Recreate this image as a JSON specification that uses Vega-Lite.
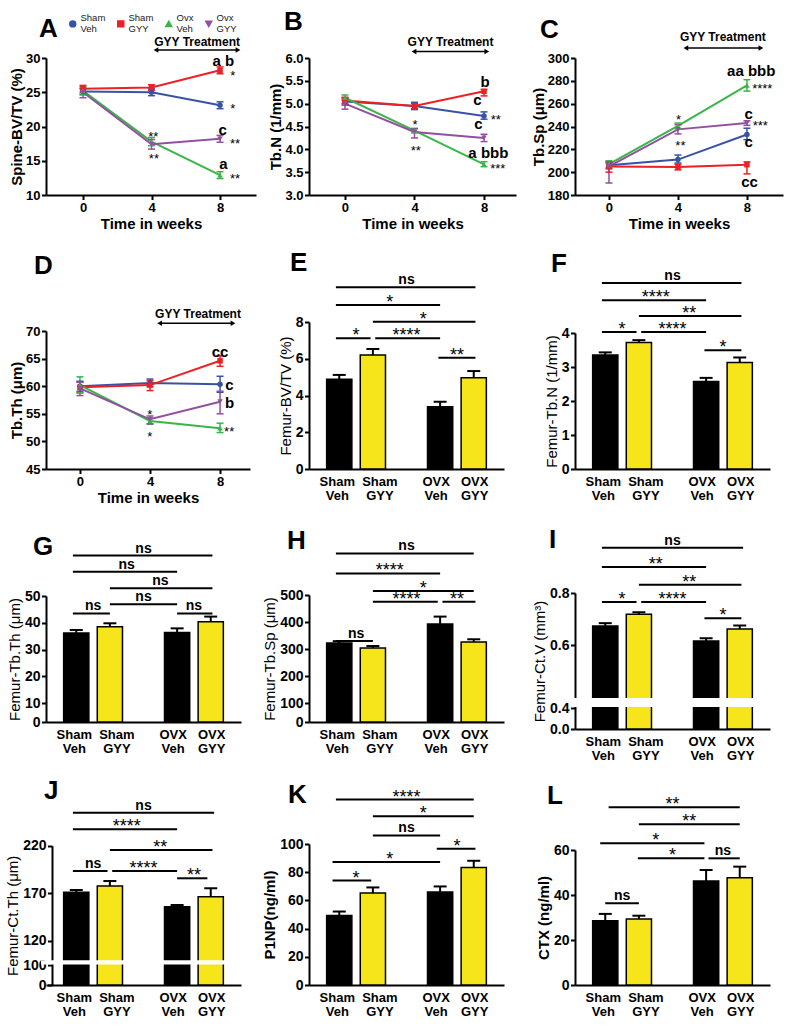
{
"$schema": "https://vega.github.io/schema/vega-lite/v6.json",
"background": "white",
"padding": {"left": 5, "top": 8, "right": 5, "bottom": 5},
"config": {
  "font": "Liberation Sans",
  "view": {"stroke": null},
  "axis": {"domainColor": "black", "domainWidth": 2, "tickColor": "black", "tickWidth": 2, "tickSize": 4.5, "tickCount": 30, "labelColor": "black", "labelFontSize": 13, "labelFontWeight": "bold", "labelPadding": 1.5, "labelOverlap": false, "labelFlush": false, "titleColor": "black", "titleFontSize": 15, "titleFontWeight": "bold", "titlePadding": 2, "grid": false},
  "title": {"anchor": "start", "frame": "group", "fontSize": 26, "fontWeight": "bold", "offset": 0, "baseline": "alphabetic", "color": "black"}
},
"datasets": {
  "A": [
    {"week": 0, "grp": "Sham Veh", "m": 25.1, "lo": 24.7, "hi": 25.5},
    {"week": 4, "grp": "Sham Veh", "m": 25.0, "lo": 24.5, "hi": 25.5},
    {"week": 8, "grp": "Sham Veh", "m": 23.1, "lo": 22.6, "hi": 23.6},
    {"week": 0, "grp": "Sham GYY", "m": 25.5, "lo": 25.0, "hi": 26.0},
    {"week": 4, "grp": "Sham GYY", "m": 25.7, "lo": 25.3, "hi": 26.1},
    {"week": 8, "grp": "Sham GYY", "m": 28.2, "lo": 27.7, "hi": 28.7},
    {"week": 0, "grp": "Ovx Veh", "m": 25.2, "lo": 24.6, "hi": 25.8},
    {"week": 4, "grp": "Ovx Veh", "m": 17.8, "lo": 17.2, "hi": 18.4},
    {"week": 8, "grp": "Ovx Veh", "m": 12.9, "lo": 12.4, "hi": 13.4},
    {"week": 0, "grp": "Ovx GYY", "m": 25.0, "lo": 24.2, "hi": 25.6},
    {"week": 4, "grp": "Ovx GYY", "m": 17.4, "lo": 16.7, "hi": 18.1},
    {"week": 8, "grp": "Ovx GYY", "m": 18.2, "lo": 17.7, "hi": 18.7}
  ],
  "A_t": [
    {"x": 8.2, "y": 29.5, "t": "a b"},
    {"x": 8.75, "y": 27.9, "t": "*"},
    {"x": 8.75, "y": 23.0, "t": "*"},
    {"x": 8.16, "y": 19.5, "t": "c"},
    {"x": 8.88, "y": 18.0, "t": "**"},
    {"x": 8.2, "y": 14.5, "t": "a"},
    {"x": 8.88, "y": 12.9, "t": "**"},
    {"x": 4.1, "y": 19.0, "t": "**"},
    {"x": 4.14, "y": 15.8, "t": "**"}
  ],
  "A_arr": [{"x1": 4.26, "x2": 9.05, "y": 31.16, "xm": 6.66, "ty": 31.74, "t": "GYY Treatment"}],
  "B": [
    {"week": 0, "grp": "Sham Veh", "m": 5.05, "lo": 4.97, "hi": 5.13},
    {"week": 4, "grp": "Sham Veh", "m": 4.95, "lo": 4.87, "hi": 5.03},
    {"week": 8, "grp": "Sham Veh", "m": 4.73, "lo": 4.66, "hi": 4.82},
    {"week": 0, "grp": "Sham GYY", "m": 5.07, "lo": 5.0, "hi": 5.14},
    {"week": 4, "grp": "Sham GYY", "m": 4.95, "lo": 4.89, "hi": 5.0},
    {"week": 8, "grp": "Sham GYY", "m": 5.27, "lo": 5.17, "hi": 5.31},
    {"week": 0, "grp": "Ovx Veh", "m": 5.13, "lo": 5.07, "hi": 5.19},
    {"week": 4, "grp": "Ovx Veh", "m": 4.41, "lo": 4.36, "hi": 4.46},
    {"week": 8, "grp": "Ovx Veh", "m": 3.67, "lo": 3.62, "hi": 3.73},
    {"week": 0, "grp": "Ovx GYY", "m": 5.0, "lo": 4.88, "hi": 5.1},
    {"week": 4, "grp": "Ovx GYY", "m": 4.38, "lo": 4.25, "hi": 4.45},
    {"week": 8, "grp": "Ovx GYY", "m": 4.25, "lo": 4.17, "hi": 4.33}
  ],
  "B_t": [
    {"x": 8.06, "y": 5.48, "t": "b"},
    {"x": 7.62, "y": 5.07, "t": "c"},
    {"x": 8.68, "y": 4.71, "t": "**"},
    {"x": 7.68, "y": 4.55, "t": "c"},
    {"x": 8.25, "y": 3.92, "t": "a bbb"},
    {"x": 8.79, "y": 3.65, "t": "***"},
    {"x": 4.03, "y": 4.6, "t": "*"},
    {"x": 4.07, "y": 4.05, "t": "**"}
  ],
  "B_arr": [{"x1": 3.97, "x2": 8.16, "y": 6.144, "xm": 6.07, "ty": 6.27, "t": "GYY Treatment"}],
  "C": [
    {"week": 0, "grp": "Sham Veh", "m": 206, "lo": 203, "hi": 209},
    {"week": 4, "grp": "Sham Veh", "m": 211, "lo": 208, "hi": 215},
    {"week": 8, "grp": "Sham Veh", "m": 233, "lo": 228.5, "hi": 238.5},
    {"week": 0, "grp": "Sham GYY", "m": 205, "lo": 200, "hi": 208},
    {"week": 4, "grp": "Sham GYY", "m": 204.5, "lo": 202, "hi": 207},
    {"week": 8, "grp": "Sham GYY", "m": 206.5, "lo": 198.5, "hi": 209},
    {"week": 0, "grp": "Ovx Veh", "m": 207, "lo": 204, "hi": 210},
    {"week": 4, "grp": "Ovx Veh", "m": 240.5, "lo": 238, "hi": 243},
    {"week": 8, "grp": "Ovx Veh", "m": 276, "lo": 271, "hi": 281},
    {"week": 0, "grp": "Ovx GYY", "m": 205, "lo": 190.5, "hi": 209},
    {"week": 4, "grp": "Ovx GYY", "m": 237.5, "lo": 233.5, "hi": 241.5},
    {"week": 8, "grp": "Ovx GYY", "m": 243, "lo": 241, "hi": 245}
  ],
  "C_t": [
    {"x": 8.25, "y": 289, "t": "aa bbb"},
    {"x": 8.89, "y": 275.9, "t": "****"},
    {"x": 8.1, "y": 251.2, "t": "c"},
    {"x": 8.77, "y": 243.3, "t": "***"},
    {"x": 8.1, "y": 226.5, "t": "c"},
    {"x": 8.15, "y": 191.6, "t": "cc"},
    {"x": 4.04, "y": 249.1, "t": "*"},
    {"x": 4.14, "y": 225.6, "t": "**"}
  ],
  "C_arr": [{"x1": 4.46, "x2": 8.81, "y": 308.7, "xm": 6.6, "ty": 315.1, "t": "GYY Treatment"}],
  "D": [
    {"week": 0, "grp": "Sham Veh", "m": 60.0, "lo": 59.1, "hi": 60.9},
    {"week": 4, "grp": "Sham Veh", "m": 60.6, "lo": 59.9, "hi": 61.3},
    {"week": 8, "grp": "Sham Veh", "m": 60.35, "lo": 58.9, "hi": 61.8},
    {"week": 0, "grp": "Sham GYY", "m": 59.8, "lo": 58.8, "hi": 60.8},
    {"week": 4, "grp": "Sham GYY", "m": 60.2, "lo": 59.2, "hi": 61.0},
    {"week": 8, "grp": "Sham GYY", "m": 64.6, "lo": 63.6, "hi": 65.5},
    {"week": 0, "grp": "Ovx Veh", "m": 60.2, "lo": 58.8, "hi": 61.7},
    {"week": 4, "grp": "Ovx Veh", "m": 53.7, "lo": 53.1, "hi": 54.3},
    {"week": 8, "grp": "Ovx Veh", "m": 52.4, "lo": 51.6, "hi": 53.3},
    {"week": 0, "grp": "Ovx GYY", "m": 59.6, "lo": 58.3, "hi": 60.7},
    {"week": 4, "grp": "Ovx GYY", "m": 54.0, "lo": 53.2, "hi": 54.6},
    {"week": 8, "grp": "Ovx GYY", "m": 57.2, "lo": 55.0, "hi": 59.1}
  ],
  "D_t": [
    {"x": 8.0, "y": 66.2, "t": "cc"},
    {"x": 8.54, "y": 60.3, "t": "c"},
    {"x": 8.54, "y": 57.0, "t": "b"},
    {"x": 8.52, "y": 52.4, "t": "**"},
    {"x": 3.98, "y": 55.4, "t": "*"},
    {"x": 3.98, "y": 51.4, "t": "*"}
  ],
  "D_arr": [{"x1": 4.55, "x2": 8.74, "y": 71.4, "xm": 6.74, "ty": 72.43, "t": "GYY Treatment"}],
  "E": [
    {"g": "Sham Veh", "trt": "Veh", "v": 4.88, "hi": 5.12},
    {"g": "Sham GYY", "trt": "GYY", "v": 6.2, "hi": 6.53},
    {"g": "OVX Veh", "trt": "Veh", "v": 3.39, "hi": 3.66},
    {"g": "OVX GYY", "trt": "GYY", "v": 4.97, "hi": 5.33}
  ],
  "E_b": [
    {"a": -0.1, "b": 4.05, "m": 2, "y": 9.89, "t": "ns"},
    {"a": -0.1, "b": 3.0, "m": 1.5, "y": 8.93, "t": "*"},
    {"a": 1.0, "b": 4.05, "m": 2.5, "y": 8.02, "t": "*"},
    {"a": -0.1, "b": 0.93, "m": 0.5, "y": 7.11, "t": "*"},
    {"a": 1.07, "b": 3.0, "m": 2, "y": 7.11, "t": "****"},
    {"a": 2.95, "b": 4.05, "m": 3.5, "y": 6.06, "t": "**"}
  ],
  "F": [
    {"g": "Sham Veh", "trt": "Veh", "v": 3.35, "hi": 3.43},
    {"g": "Sham GYY", "trt": "GYY", "v": 3.72, "hi": 3.79},
    {"g": "OVX Veh", "trt": "Veh", "v": 2.57, "hi": 2.68},
    {"g": "OVX GYY", "trt": "GYY", "v": 3.13, "hi": 3.28}
  ],
  "F_b": [
    {"a": -0.1, "b": 4.05, "m": 2, "y": 5.47, "t": "ns"},
    {"a": -0.1, "b": 3.0, "m": 1.5, "y": 4.96, "t": "****"},
    {"a": 1.0, "b": 4.05, "m": 2.5, "y": 4.5, "t": "**"},
    {"a": -0.1, "b": 0.93, "m": 0.5, "y": 4.03, "t": "*"},
    {"a": 1.07, "b": 3.0, "m": 2, "y": 4.03, "t": "****"},
    {"a": 2.95, "b": 4.05, "m": 3.5, "y": 3.49, "t": "*"}
  ],
  "G": [
    {"g": "Sham Veh", "trt": "Veh", "v": 36.2, "hi": 37.3},
    {"g": "Sham GYY", "trt": "GYY", "v": 38.5, "hi": 39.8},
    {"g": "OVX Veh", "trt": "Veh", "v": 36.4, "hi": 37.9},
    {"g": "OVX GYY", "trt": "GYY", "v": 40.4, "hi": 42.3}
  ],
  "G_b": [
    {"a": -0.1, "b": 4.05, "m": 2, "y": 65.1, "t": "ns"},
    {"a": -0.1, "b": 3.0, "m": 1.5, "y": 59.1, "t": "ns"},
    {"a": 1.0, "b": 4.05, "m": 2.5, "y": 52.9, "t": "ns"},
    {"a": 1.0, "b": 3.0, "m": 2, "y": 46.9, "t": "ns"},
    {"a": -0.1, "b": 1.0, "m": 0.5, "y": 43.5, "t": "ns"},
    {"a": 3.0, "b": 4.05, "m": 3.5, "y": 43.5, "t": "ns"}
  ],
  "H": [
    {"g": "Sham Veh", "trt": "Veh", "v": 322, "hi": 329},
    {"g": "Sham GYY", "trt": "GYY", "v": 304, "hi": 311},
    {"g": "OVX Veh", "trt": "Veh", "v": 393, "hi": 420},
    {"g": "OVX GYY", "trt": "GYY", "v": 326, "hi": 336}
  ],
  "H_b": [
    {"a": -0.1, "b": 4.0, "m": 2, "y": 654, "t": "ns"},
    {"a": -0.1, "b": 3.0, "m": 1.5, "y": 580, "t": "****"},
    {"a": 1.0, "b": 4.0, "m": 2.5, "y": 515, "t": "*"},
    {"a": 1.0, "b": 2.93, "m": 2, "y": 475, "t": "****"},
    {"a": 3.07, "b": 4.05, "m": 3.5, "y": 475, "t": "**"},
    {"a": -0.1, "b": 1.0, "m": 0.5, "y": 330, "t": "ns"}
  ],
  "I": [
    {"g": "Sham Veh", "trt": "Veh", "v": 0.6735, "hi": 0.684},
    {"g": "Sham GYY", "trt": "GYY", "v": 0.7187, "hi": 0.726},
    {"g": "OVX Veh", "trt": "Veh", "v": 0.6155, "hi": 0.626},
    {"g": "OVX GYY", "trt": "GYY", "v": 0.662, "hi": 0.675}
  ],
  "I_b": [
    {"a": -0.1, "b": 4.1, "m": 2, "y": 0.974, "t": "ns"},
    {"a": -0.1, "b": 3.0, "m": 1.5, "y": 0.9, "t": "**"},
    {"a": 1.0, "b": 4.05, "m": 2.5, "y": 0.832, "t": "**"},
    {"a": -0.1, "b": 0.93, "m": 0.5, "y": 0.765, "t": "*"},
    {"a": 1.07, "b": 3.0, "m": 2, "y": 0.765, "t": "****"},
    {"a": 2.95, "b": 4.05, "m": 3.5, "y": 0.703, "t": "*"}
  ],
  "I_gap": [{"a": -1.05, "b": 4.9, "y1": 0.40001, "y2": 0.40009}],
  "J": [
    {"g": "Sham Veh", "trt": "Veh", "v": 171, "hi": 173.4},
    {"g": "Sham GYY", "trt": "GYY", "v": 177.6, "hi": 182.8},
    {"g": "OVX Veh", "trt": "Veh", "v": 155.8, "hi": 157.6},
    {"g": "OVX GYY", "trt": "GYY", "v": 166.3, "hi": 175.2}
  ],
  "J_b": [
    {"a": -0.1, "b": 4.1, "m": 2, "y": 254.7, "t": "ns"},
    {"a": -0.1, "b": 3.0, "m": 1.5, "y": 237.3, "t": "****"},
    {"a": 1.0, "b": 4.05, "m": 2.5, "y": 215.5, "t": "**"},
    {"a": -0.1, "b": 0.93, "m": 0.5, "y": 193.4, "t": "ns"},
    {"a": 1.07, "b": 3.0, "m": 2, "y": 193.4, "t": "****"},
    {"a": 3.0, "b": 3.9, "m": 3.5, "y": 185.7, "t": "**"}
  ],
  "J_gap": [{"a": -1.05, "b": 4.9, "y1": 100.001, "y2": 100.009}],
  "K": [
    {"g": "Sham Veh", "trt": "Veh", "v": 49.3, "hi": 52.1},
    {"g": "Sham GYY", "trt": "GYY", "v": 65.2, "hi": 69.2},
    {"g": "OVX Veh", "trt": "Veh", "v": 65.9, "hi": 69.9},
    {"g": "OVX GYY", "trt": "GYY", "v": 83.4, "hi": 88.1}
  ],
  "K_b": [
    {"a": -0.1, "b": 4.0, "m": 2, "y": 131.5, "t": "****"},
    {"a": 1.0, "b": 4.0, "m": 2.5, "y": 119.6, "t": "*"},
    {"a": 1.0, "b": 3.0, "m": 2, "y": 106.1, "t": "ns"},
    {"a": 2.9, "b": 4.05, "m": 3.5, "y": 96.7, "t": "*"},
    {"a": -0.2, "b": 3.0, "m": 1.5, "y": 87.2, "t": "*"},
    {"a": -0.2, "b": 0.95, "m": 0.5, "y": 74.1, "t": "*"}
  ],
  "L": [
    {"g": "Sham Veh", "trt": "Veh", "v": 28.6, "hi": 31.6},
    {"g": "Sham GYY", "trt": "GYY", "v": 29.3, "hi": 30.8},
    {"g": "OVX Veh", "trt": "Veh", "v": 46.2, "hi": 51.1},
    {"g": "OVX GYY", "trt": "GYY", "v": 47.7, "hi": 52.6}
  ],
  "L_b": [
    {"a": 0.1, "b": 4.0, "m": 2, "y": 79.0, "t": "**"},
    {"a": 1.0, "b": 4.0, "m": 2.5, "y": 71.4, "t": "**"},
    {"a": -0.15, "b": 2.95, "m": 1.5, "y": 63.0, "t": "*"},
    {"a": 0.97, "b": 2.95, "m": 2, "y": 56.3, "t": "*"},
    {"a": 3.07, "b": 4.0, "m": 3.5, "y": 56.3, "t": "ns"},
    {"a": 0.0, "b": 1.0, "m": 0.5, "y": 36.3, "t": "ns"}
  ]
},
"columns": 3,
"bounds": "flush",
"align": "each",
"spacing": {"row": 115, "column": 53},
"resolve": {"scale": {"color": "independent", "shape": "independent", "fill": "independent"}},
"concat": [
{
  "width": 210, "height": 137,
  "title": {"text": "A", "dx": -7, "dy": 27},
  "layer": [
    {"data": {"name": "A"}, "mark": {"type": "line", "strokeWidth": 2},
     "encoding": {
       "x": {"field": "week", "type": "quantitative", "scale": {"domain": [-2.16, 10.1], "nice": false, "zero": false}, "axis": {"values": [0, 4, 8], "format": "d", "tickCount": 30, "title": "Time in weeks"}},
       "y": {"field": "m", "type": "quantitative", "scale": {"domain": [10, 30], "nice": false, "zero": false}, "axis": {"values": [10, 15, 20, 25, 30], "format": "d", "tickCount": 30, "labelOverlap": false, "title": "Spine-BV/TV (%)", "titlePadding": 1}},
       "color": {"field": "grp", "type": "nominal", "scale": {"domain": ["Sham Veh", "Sham GYY", "Ovx Veh", "Ovx GYY"], "range": ["#3953a4", "#ed2024", "#3ab54a", "#9250a0"]},
         "legend": {"orient": "none", "legendX": 22, "legendY": -39, "direction": "horizontal", "title": null, "labelFontSize": 9.5, "labelFontWeight": "normal", "labelColor": "#222222", "labelExpr": "split(datum.label, ' ')", "labelLineHeight": 10, "labelBaseline": "line-bottom", "symbolSize": 35, "columnPadding": 8, "labelOffset": 3, "padding": 0, "symbolStrokeWidth": 1.5, "labelLimit": 40}}}},
    {"data": {"name": "A"}, "mark": {"type": "rule", "strokeWidth": 1.5},
     "encoding": {"x": {"field": "week", "type": "quantitative"}, "y": {"field": "lo", "type": "quantitative"}, "y2": {"field": "hi"}, "color": {"field": "grp", "type": "nominal"}}},
    {"data": {"name": "A"}, "mark": {"type": "tick", "orient": "horizontal", "size": 7, "thickness": 1.5, "opacity": 1},
     "encoding": {"x": {"field": "week", "type": "quantitative"}, "y": {"field": "lo", "type": "quantitative"}, "color": {"field": "grp", "type": "nominal"}}},
    {"data": {"name": "A"}, "mark": {"type": "tick", "orient": "horizontal", "size": 7, "thickness": 1.5, "opacity": 1},
     "encoding": {"x": {"field": "week", "type": "quantitative"}, "y": {"field": "hi", "type": "quantitative"}, "color": {"field": "grp", "type": "nominal"}}},
    {"data": {"name": "A"}, "mark": {"type": "point", "filled": true, "size": 30, "opacity": 1},
     "encoding": {"x": {"field": "week", "type": "quantitative"}, "y": {"field": "m", "type": "quantitative"}, "color": {"field": "grp", "type": "nominal"},
       "shape": {"field": "grp", "type": "nominal", "scale": {"domain": ["Sham Veh", "Sham GYY", "Ovx Veh", "Ovx GYY"], "range": ["circle", "square", "triangle-up", "triangle-down"]},
         "legend": {"orient": "none", "legendX": 22, "legendY": -39, "direction": "horizontal", "title": null, "labelFontSize": 9.5, "labelFontWeight": "normal", "labelColor": "#222222", "labelExpr": "split(datum.label, ' ')", "labelLineHeight": 10, "labelBaseline": "line-bottom", "symbolSize": 35, "columnPadding": 8, "labelOffset": 3, "padding": 0, "symbolStrokeWidth": 1.5, "labelLimit": 40}}}},
    {"data": {"name": "A_arr"}, "mark": {"type": "rule", "strokeWidth": 1.5, "color": "black"},
     "encoding": {"x": {"field": "x1", "type": "quantitative"}, "x2": {"field": "x2"}, "y": {"field": "y", "type": "quantitative"}}},
    {"data": {"name": "A_arr"}, "mark": {"type": "point", "shape": "triangle-left", "filled": true, "color": "black", "size": 30, "opacity": 1},
     "encoding": {"x": {"field": "x1", "type": "quantitative"}, "y": {"field": "y", "type": "quantitative"}}},
    {"data": {"name": "A_arr"}, "mark": {"type": "point", "shape": "triangle-right", "filled": true, "color": "black", "size": 30, "opacity": 1},
     "encoding": {"x": {"field": "x2", "type": "quantitative"}, "y": {"field": "y", "type": "quantitative"}}},
    {"data": {"name": "A_arr"}, "mark": {"type": "text", "fontSize": 12, "fontWeight": "bold", "baseline": "alphabetic"},
     "encoding": {"x": {"field": "xm", "type": "quantitative"}, "y": {"field": "ty", "type": "quantitative"}, "text": {"field": "t"}}},
    {"data": {"name": "A_t"}, "transform": [{"filter": "indexof(datum.t, '*') < 0"}], "mark": {"type": "text", "fontSize": 15, "fontWeight": "bold", "baseline": "middle"},
     "encoding": {"x": {"field": "x", "type": "quantitative"}, "y": {"field": "y", "type": "quantitative"}, "text": {"field": "t"}}},
    {"data": {"name": "A_t"}, "transform": [{"filter": "indexof(datum.t, '*') >= 0"}], "mark": {"type": "text", "fontSize": 13, "baseline": "middle", "dy": 3.5},
     "encoding": {"x": {"field": "x", "type": "quantitative"}, "y": {"field": "y", "type": "quantitative"}, "text": {"field": "t"}}}
  ]
},
{
  "width": 213, "height": 137,
  "title": {"text": "B", "dx": -25, "dy": 3},
  "layer": [
    {"data": {"name": "B"}, "mark": {"type": "line", "strokeWidth": 2},
     "encoding": {
       "x": {"field": "week", "type": "quantitative", "scale": {"domain": [-2.07, 9.84], "range": [0, 207], "nice": false, "zero": false}, "axis": {"values": [0, 4, 8], "format": "d", "tickCount": 30, "title": "Time in weeks"}},
       "y": {"field": "m", "type": "quantitative", "scale": {"domain": [3, 6], "nice": false, "zero": false}, "axis": {"values": [3, 3.5, 4, 4.5, 5, 5.5, 6], "tickCount": 30, "labelOverlap": false, "format": ".1f", "title": "Tb.N (1/mm)", "titlePadding": 1}},
       "color": {"field": "grp", "type": "nominal", "scale": {"domain": ["Sham Veh", "Sham GYY", "Ovx Veh", "Ovx GYY"], "range": ["#3953a4", "#ed2024", "#3ab54a", "#9250a0"]}, "legend": null}}},
    {"data": {"name": "B"}, "mark": {"type": "rule", "strokeWidth": 1.5},
     "encoding": {"x": {"field": "week", "type": "quantitative"}, "y": {"field": "lo", "type": "quantitative"}, "y2": {"field": "hi"}, "color": {"field": "grp", "type": "nominal", "legend": null}}},
    {"data": {"name": "B"}, "mark": {"type": "tick", "orient": "horizontal", "size": 7, "thickness": 1.5, "opacity": 1},
     "encoding": {"x": {"field": "week", "type": "quantitative"}, "y": {"field": "lo", "type": "quantitative"}, "color": {"field": "grp", "type": "nominal", "legend": null}}},
    {"data": {"name": "B"}, "mark": {"type": "tick", "orient": "horizontal", "size": 7, "thickness": 1.5, "opacity": 1},
     "encoding": {"x": {"field": "week", "type": "quantitative"}, "y": {"field": "hi", "type": "quantitative"}, "color": {"field": "grp", "type": "nominal", "legend": null}}},
    {"data": {"name": "B"}, "mark": {"type": "point", "filled": true, "size": 30, "opacity": 1},
     "encoding": {"x": {"field": "week", "type": "quantitative"}, "y": {"field": "m", "type": "quantitative"}, "color": {"field": "grp", "type": "nominal", "legend": null},
       "shape": {"field": "grp", "type": "nominal", "scale": {"domain": ["Sham Veh", "Sham GYY", "Ovx Veh", "Ovx GYY"], "range": ["circle", "square", "triangle-up", "triangle-down"]}, "legend": null}}},
    {"data": {"name": "B_arr"}, "mark": {"type": "rule", "strokeWidth": 1.5, "color": "black"},
     "encoding": {"x": {"field": "x1", "type": "quantitative"}, "x2": {"field": "x2"}, "y": {"field": "y", "type": "quantitative"}}},
    {"data": {"name": "B_arr"}, "mark": {"type": "point", "shape": "triangle-left", "filled": true, "color": "black", "size": 30, "opacity": 1},
     "encoding": {"x": {"field": "x1", "type": "quantitative"}, "y": {"field": "y", "type": "quantitative"}}},
    {"data": {"name": "B_arr"}, "mark": {"type": "point", "shape": "triangle-right", "filled": true, "color": "black", "size": 30, "opacity": 1},
     "encoding": {"x": {"field": "x2", "type": "quantitative"}, "y": {"field": "y", "type": "quantitative"}}},
    {"data": {"name": "B_arr"}, "mark": {"type": "text", "fontSize": 12, "fontWeight": "bold", "baseline": "alphabetic"},
     "encoding": {"x": {"field": "xm", "type": "quantitative"}, "y": {"field": "ty", "type": "quantitative"}, "text": {"field": "t"}}},
    {"data": {"name": "B_t"}, "transform": [{"filter": "indexof(datum.t, '*') < 0"}], "mark": {"type": "text", "fontSize": 15, "fontWeight": "bold", "baseline": "middle"},
     "encoding": {"x": {"field": "x", "type": "quantitative"}, "y": {"field": "y", "type": "quantitative"}, "text": {"field": "t"}}},
    {"data": {"name": "B_t"}, "transform": [{"filter": "indexof(datum.t, '*') >= 0"}], "mark": {"type": "text", "fontSize": 13, "baseline": "middle", "dy": 3.5},
     "encoding": {"x": {"field": "x", "type": "quantitative"}, "y": {"field": "y", "type": "quantitative"}, "text": {"field": "t"}}}
  ]
},
{
  "width": 208, "height": 137,
  "title": {"text": "C", "dx": -35, "dy": 16},
  "layer": [
    {"data": {"name": "C"}, "mark": {"type": "line", "strokeWidth": 2},
     "encoding": {
       "x": {"field": "week", "type": "quantitative", "scale": {"domain": [-1.97, 10.09], "nice": false, "zero": false}, "axis": {"values": [0, 4, 8], "format": "d", "tickCount": 30, "title": "Time in weeks"}},
       "y": {"field": "m", "type": "quantitative", "scale": {"domain": [180, 300], "nice": false, "zero": false}, "axis": {"values": [180, 200, 220, 240, 260, 280, 300], "format": "d", "tickCount": 30, "labelOverlap": false, "title": "Tb.Sp (μm)", "titlePadding": 1}},
       "color": {"field": "grp", "type": "nominal", "scale": {"domain": ["Sham Veh", "Sham GYY", "Ovx Veh", "Ovx GYY"], "range": ["#3953a4", "#ed2024", "#3ab54a", "#9250a0"]}, "legend": null}}},
    {"data": {"name": "C"}, "mark": {"type": "rule", "strokeWidth": 1.5},
     "encoding": {"x": {"field": "week", "type": "quantitative"}, "y": {"field": "lo", "type": "quantitative"}, "y2": {"field": "hi"}, "color": {"field": "grp", "type": "nominal", "legend": null}}},
    {"data": {"name": "C"}, "mark": {"type": "tick", "orient": "horizontal", "size": 7, "thickness": 1.5, "opacity": 1},
     "encoding": {"x": {"field": "week", "type": "quantitative"}, "y": {"field": "lo", "type": "quantitative"}, "color": {"field": "grp", "type": "nominal", "legend": null}}},
    {"data": {"name": "C"}, "mark": {"type": "tick", "orient": "horizontal", "size": 7, "thickness": 1.5, "opacity": 1},
     "encoding": {"x": {"field": "week", "type": "quantitative"}, "y": {"field": "hi", "type": "quantitative"}, "color": {"field": "grp", "type": "nominal", "legend": null}}},
    {"data": {"name": "C"}, "mark": {"type": "point", "filled": true, "size": 30, "opacity": 1},
     "encoding": {"x": {"field": "week", "type": "quantitative"}, "y": {"field": "m", "type": "quantitative"}, "color": {"field": "grp", "type": "nominal", "legend": null},
       "shape": {"field": "grp", "type": "nominal", "scale": {"domain": ["Sham Veh", "Sham GYY", "Ovx Veh", "Ovx GYY"], "range": ["circle", "square", "triangle-up", "triangle-down"]}, "legend": null}}},
    {"data": {"name": "C_arr"}, "mark": {"type": "rule", "strokeWidth": 1.5, "color": "black"},
     "encoding": {"x": {"field": "x1", "type": "quantitative"}, "x2": {"field": "x2"}, "y": {"field": "y", "type": "quantitative"}}},
    {"data": {"name": "C_arr"}, "mark": {"type": "point", "shape": "triangle-left", "filled": true, "color": "black", "size": 30, "opacity": 1},
     "encoding": {"x": {"field": "x1", "type": "quantitative"}, "y": {"field": "y", "type": "quantitative"}}},
    {"data": {"name": "C_arr"}, "mark": {"type": "point", "shape": "triangle-right", "filled": true, "color": "black", "size": 30, "opacity": 1},
     "encoding": {"x": {"field": "x2", "type": "quantitative"}, "y": {"field": "y", "type": "quantitative"}}},
    {"data": {"name": "C_arr"}, "mark": {"type": "text", "fontSize": 12, "fontWeight": "bold", "baseline": "alphabetic"},
     "encoding": {"x": {"field": "xm", "type": "quantitative"}, "y": {"field": "ty", "type": "quantitative"}, "text": {"field": "t"}}},
    {"data": {"name": "C_t"}, "transform": [{"filter": "indexof(datum.t, '*') < 0"}], "mark": {"type": "text", "fontSize": 15, "fontWeight": "bold", "baseline": "middle"},
     "encoding": {"x": {"field": "x", "type": "quantitative"}, "y": {"field": "y", "type": "quantitative"}, "text": {"field": "t"}}},
    {"data": {"name": "C_t"}, "transform": [{"filter": "indexof(datum.t, '*') >= 0"}], "mark": {"type": "text", "fontSize": 13, "baseline": "middle", "dy": 3.5},
     "encoding": {"x": {"field": "x", "type": "quantitative"}, "y": {"field": "y", "type": "quantitative"}, "text": {"field": "t"}}}
  ]
},
{
  "width": 204, "height": 159,
  "title": {"text": "D", "dx": -12, "dy": -25},
  "layer": [
    {"data": {"name": "D"}, "mark": {"type": "line", "strokeWidth": 2},
     "encoding": {
       "x": {"field": "week", "type": "quantitative", "scale": {"domain": [-1.94, 9.71], "nice": false, "zero": false}, "axis": {"values": [0, 4, 8], "format": "d", "tickCount": 30, "title": "Time in weeks"}},
       "y": {"field": "m", "type": "quantitative", "scale": {"domain": [45, 70], "range": [159, 21], "nice": false, "zero": false}, "axis": {"values": [45, 50, 55, 60, 65, 70], "format": "d", "tickCount": 30, "labelOverlap": false, "title": "Tb.Th (μm)", "titlePadding": 1}},
       "color": {"field": "grp", "type": "nominal", "scale": {"domain": ["Sham Veh", "Sham GYY", "Ovx Veh", "Ovx GYY"], "range": ["#3953a4", "#ed2024", "#3ab54a", "#9250a0"]}, "legend": null}}},
    {"data": {"name": "D"}, "mark": {"type": "rule", "strokeWidth": 1.5},
     "encoding": {"x": {"field": "week", "type": "quantitative"}, "y": {"field": "lo", "type": "quantitative"}, "y2": {"field": "hi"}, "color": {"field": "grp", "type": "nominal", "legend": null}}},
    {"data": {"name": "D"}, "mark": {"type": "tick", "orient": "horizontal", "size": 7, "thickness": 1.5, "opacity": 1},
     "encoding": {"x": {"field": "week", "type": "quantitative"}, "y": {"field": "lo", "type": "quantitative"}, "color": {"field": "grp", "type": "nominal", "legend": null}}},
    {"data": {"name": "D"}, "mark": {"type": "tick", "orient": "horizontal", "size": 7, "thickness": 1.5, "opacity": 1},
     "encoding": {"x": {"field": "week", "type": "quantitative"}, "y": {"field": "hi", "type": "quantitative"}, "color": {"field": "grp", "type": "nominal", "legend": null}}},
    {"data": {"name": "D"}, "mark": {"type": "point", "filled": true, "size": 30, "opacity": 1},
     "encoding": {"x": {"field": "week", "type": "quantitative"}, "y": {"field": "m", "type": "quantitative"}, "color": {"field": "grp", "type": "nominal", "legend": null},
       "shape": {"field": "grp", "type": "nominal", "scale": {"domain": ["Sham Veh", "Sham GYY", "Ovx Veh", "Ovx GYY"], "range": ["circle", "square", "triangle-up", "triangle-down"]}, "legend": null}}},
    {"data": {"name": "D_arr"}, "mark": {"type": "rule", "strokeWidth": 1.5, "color": "black"},
     "encoding": {"x": {"field": "x1", "type": "quantitative"}, "x2": {"field": "x2"}, "y": {"field": "y", "type": "quantitative"}}},
    {"data": {"name": "D_arr"}, "mark": {"type": "point", "shape": "triangle-left", "filled": true, "color": "black", "size": 30, "opacity": 1},
     "encoding": {"x": {"field": "x1", "type": "quantitative"}, "y": {"field": "y", "type": "quantitative"}}},
    {"data": {"name": "D_arr"}, "mark": {"type": "point", "shape": "triangle-right", "filled": true, "color": "black", "size": 30, "opacity": 1},
     "encoding": {"x": {"field": "x2", "type": "quantitative"}, "y": {"field": "y", "type": "quantitative"}}},
    {"data": {"name": "D_arr"}, "mark": {"type": "text", "fontSize": 12, "fontWeight": "bold", "baseline": "alphabetic"},
     "encoding": {"x": {"field": "xm", "type": "quantitative"}, "y": {"field": "ty", "type": "quantitative"}, "text": {"field": "t"}}},
    {"data": {"name": "D_t"}, "transform": [{"filter": "indexof(datum.t, '*') < 0"}], "mark": {"type": "text", "fontSize": 15, "fontWeight": "bold", "baseline": "middle"},
     "encoding": {"x": {"field": "x", "type": "quantitative"}, "y": {"field": "y", "type": "quantitative"}, "text": {"field": "t"}}},
    {"data": {"name": "D_t"}, "transform": [{"filter": "indexof(datum.t, '*') >= 0"}], "mark": {"type": "text", "fontSize": 13, "baseline": "middle", "dy": 3.5},
     "encoding": {"x": {"field": "x", "type": "quantitative"}, "y": {"field": "y", "type": "quantitative"}, "text": {"field": "t"}}}
  ]
},
{
  "width": 195, "height": 159,
  "title": {"text": "E", "dx": -19, "dy": 7},
  "resolve": {"scale": {"x": "independent"}},
  "layer": [
    {"data": {"name": "E"}, "layer": [
      {"mark": {"type": "bar", "width": {"band": 0.75}, "stroke": "black", "strokeWidth": 1.5},
       "encoding": {
         "x": {"field": "g", "type": "nominal", "scale": {"domain": ["Sham Veh", "Sham GYY", "", "OVX Veh", "OVX GYY"], "paddingInner": 0, "paddingOuter": 0.4}, "axis": {"title": null, "labelExpr": "split(datum.label, ' ')", "labelAngle": 0, "ticks": false, "labelPadding": 6, "labelFontSize": 13, "labelLineHeight": 14, "labelBaseline": "top", "labelOffset": {"condition": [{"test": "datum.value == 'Sham GYY'", "value": 7}, {"test": "datum.value == 'OVX Veh'", "value": -4}, {"test": "datum.value == 'OVX GYY'", "value": 1}], "value": -2}}},
         "y": {"field": "v", "type": "quantitative", "scale": {"domain": [0, 8], "range": [159, 12], "nice": false, "zero": false}, "axis": {"values": [0, 2, 4, 6, 8], "format": "d", "tickCount": 30, "labelOverlap": false, "title": "Femur-BV/TV (%)", "titleFontWeight": "normal", "labelFontSize": 14}},
         "fill": {"field": "trt", "type": "nominal", "scale": {"domain": ["Veh", "GYY"], "range": ["#000000", "#f6e51b"]}, "legend": null}}},
      {"mark": {"type": "rule", "strokeWidth": 2, "color": "black"},
       "encoding": {"x": {"field": "g", "type": "nominal"}, "y": {"field": "v", "type": "quantitative"}, "y2": {"field": "hi"}}},
      {"mark": {"type": "tick", "size": 13, "thickness": 2, "color": "black", "opacity": 1},
       "encoding": {"x": {"field": "g", "type": "nominal"}, "y": {"field": "hi", "type": "quantitative"}}}
    ]},
    {"data": {"name": "E_b"}, "layer": [
      {"mark": {"type": "rule", "strokeWidth": 2, "color": "black"},
       "encoding": {"x": {"field": "a", "type": "quantitative", "scale": {"domain": [-0.9, 4.9], "nice": false, "zero": false}, "axis": null}, "x2": {"field": "b"}, "y": {"field": "y", "type": "quantitative"}}},
      {"transform": [{"filter": "datum.t == 'ns'"}], "mark": {"type": "text", "fontSize": 14, "fontWeight": "bold", "baseline": "middle", "dy": -7},
       "encoding": {"x": {"field": "m", "type": "quantitative"}, "y": {"field": "y", "type": "quantitative"}, "text": {"field": "t"}}},
      {"transform": [{"filter": "datum.t != 'ns'"}], "mark": {"type": "text", "fontSize": 18, "baseline": "middle", "dy": -2},
       "encoding": {"x": {"field": "m", "type": "quantitative"}, "y": {"field": "y", "type": "quantitative"}, "text": {"field": "t"}}}
    ]}
  ]
},
{
  "width": 195, "height": 159,
  "title": {"text": "F", "dx": -24, "dy": 12},
  "resolve": {"scale": {"x": "independent"}},
  "layer": [
    {"data": {"name": "F"}, "layer": [
      {"mark": {"type": "bar", "width": {"band": 0.75}, "stroke": "black", "strokeWidth": 1.5},
       "encoding": {
         "x": {"field": "g", "type": "nominal", "scale": {"domain": ["Sham Veh", "Sham GYY", "", "OVX Veh", "OVX GYY"], "paddingInner": 0, "paddingOuter": 0.4}, "axis": {"title": null, "labelExpr": "split(datum.label, ' ')", "labelAngle": 0, "ticks": false, "labelPadding": 6, "labelFontSize": 13, "labelLineHeight": 14, "labelBaseline": "top", "labelOffset": {"condition": [{"test": "datum.value == 'Sham GYY'", "value": 7}, {"test": "datum.value == 'OVX Veh'", "value": -4}, {"test": "datum.value == 'OVX GYY'", "value": 1}], "value": -2}}},
         "y": {"field": "v", "type": "quantitative", "scale": {"domain": [0, 4], "range": [159, 23], "nice": false, "zero": false}, "axis": {"values": [0, 1, 2, 3, 4], "format": "d", "tickCount": 30, "labelOverlap": false, "title": "Femur-Tb.N (1/mm)", "titleFontWeight": "normal", "labelFontSize": 14}},
         "fill": {"field": "trt", "type": "nominal", "scale": {"domain": ["Veh", "GYY"], "range": ["#000000", "#f6e51b"]}, "legend": null}}},
      {"mark": {"type": "rule", "strokeWidth": 2, "color": "black"},
       "encoding": {"x": {"field": "g", "type": "nominal"}, "y": {"field": "v", "type": "quantitative"}, "y2": {"field": "hi"}}},
      {"mark": {"type": "tick", "size": 13, "thickness": 2, "color": "black", "opacity": 1},
       "encoding": {"x": {"field": "g", "type": "nominal"}, "y": {"field": "hi", "type": "quantitative"}}}
    ]},
    {"data": {"name": "F_b"}, "layer": [
      {"mark": {"type": "rule", "strokeWidth": 2, "color": "black"},
       "encoding": {"x": {"field": "a", "type": "quantitative", "scale": {"domain": [-0.9, 4.9], "nice": false, "zero": false}, "axis": null}, "x2": {"field": "b"}, "y": {"field": "y", "type": "quantitative"}}},
      {"transform": [{"filter": "datum.t == 'ns'"}], "mark": {"type": "text", "fontSize": 14, "fontWeight": "bold", "baseline": "middle", "dy": -7},
       "encoding": {"x": {"field": "m", "type": "quantitative"}, "y": {"field": "y", "type": "quantitative"}, "text": {"field": "t"}}},
      {"transform": [{"filter": "datum.t != 'ns'"}], "mark": {"type": "text", "fontSize": 18, "baseline": "middle", "dy": -2},
       "encoding": {"x": {"field": "m", "type": "quantitative"}, "y": {"field": "y", "type": "quantitative"}, "text": {"field": "t"}}}
    ]}
  ]
},
{
  "width": 195, "height": 145,
  "title": {"text": "G", "dx": -13, "dy": 22},
  "resolve": {"scale": {"x": "independent"}},
  "layer": [
    {"data": {"name": "G"}, "layer": [
      {"mark": {"type": "bar", "width": {"band": 0.75}, "stroke": "black", "strokeWidth": 1.5},
       "encoding": {
         "x": {"field": "g", "type": "nominal", "scale": {"domain": ["Sham Veh", "Sham GYY", "", "OVX Veh", "OVX GYY"], "paddingInner": 0, "paddingOuter": 0.4}, "axis": {"title": null, "offset": -7, "labelExpr": "split(datum.label, ' ')", "labelAngle": 0, "ticks": false, "labelPadding": 6, "labelFontSize": 13, "labelLineHeight": 14, "labelBaseline": "top", "labelOffset": {"condition": [{"test": "datum.value == 'Sham GYY'", "value": 7}, {"test": "datum.value == 'OVX Veh'", "value": -4}, {"test": "datum.value == 'OVX GYY'", "value": 1}], "value": -2}}},
         "y": {"field": "v", "type": "quantitative", "scale": {"domain": [0, 10, 50], "range": [138, 119, 12], "nice": false, "zero": false}, "axis": {"values": [0, 10, 20, 30, 40, 50], "format": "d", "tickCount": 30, "labelOverlap": false, "title": "Femur-Tb.Th (μm)", "titleFontWeight": "normal", "labelFontSize": 14}},
         "fill": {"field": "trt", "type": "nominal", "scale": {"domain": ["Veh", "GYY"], "range": ["#000000", "#f6e51b"]}, "legend": null}}},
      {"mark": {"type": "rule", "strokeWidth": 2, "color": "black"},
       "encoding": {"x": {"field": "g", "type": "nominal"}, "y": {"field": "v", "type": "quantitative"}, "y2": {"field": "hi"}}},
      {"mark": {"type": "tick", "size": 13, "thickness": 2, "color": "black", "opacity": 1},
       "encoding": {"x": {"field": "g", "type": "nominal"}, "y": {"field": "hi", "type": "quantitative"}}}
    ]},
    {"data": {"name": "G_b"}, "layer": [
      {"mark": {"type": "rule", "strokeWidth": 2, "color": "black"},
       "encoding": {"x": {"field": "a", "type": "quantitative", "scale": {"domain": [-0.9, 4.9], "nice": false, "zero": false}, "axis": null}, "x2": {"field": "b"}, "y": {"field": "y", "type": "quantitative"}}},
      {"transform": [{"filter": "datum.t == 'ns'"}], "mark": {"type": "text", "fontSize": 14, "fontWeight": "bold", "baseline": "middle", "dy": -7},
       "encoding": {"x": {"field": "m", "type": "quantitative"}, "y": {"field": "y", "type": "quantitative"}, "text": {"field": "t"}}},
      {"transform": [{"filter": "datum.t != 'ns'"}], "mark": {"type": "text", "fontSize": 18, "baseline": "middle", "dy": -2},
       "encoding": {"x": {"field": "m", "type": "quantitative"}, "y": {"field": "y", "type": "quantitative"}, "text": {"field": "t"}}}
    ]}
  ]
},
{
  "width": 195, "height": 145,
  "title": {"text": "H", "dx": -22, "dy": 19},
  "resolve": {"scale": {"x": "independent"}},
  "layer": [
    {"data": {"name": "H"}, "layer": [
      {"mark": {"type": "bar", "width": {"band": 0.75}, "stroke": "black", "strokeWidth": 1.5},
       "encoding": {
         "x": {"field": "g", "type": "nominal", "scale": {"domain": ["Sham Veh", "Sham GYY", "", "OVX Veh", "OVX GYY"], "paddingInner": 0, "paddingOuter": 0.4}, "axis": {"title": null, "offset": -7, "labelExpr": "split(datum.label, ' ')", "labelAngle": 0, "ticks": false, "labelPadding": 6, "labelFontSize": 13, "labelLineHeight": 14, "labelBaseline": "top", "labelOffset": {"condition": [{"test": "datum.value == 'Sham GYY'", "value": 7}, {"test": "datum.value == 'OVX Veh'", "value": -4}, {"test": "datum.value == 'OVX GYY'", "value": 1}], "value": -2}}},
         "y": {"field": "v", "type": "quantitative", "scale": {"domain": [0, 100, 500], "range": [138, 119, 11], "nice": false, "zero": false}, "axis": {"values": [0, 100, 200, 300, 400, 500], "format": "d", "tickCount": 30, "labelOverlap": false, "title": "Femur-Tb.Sp (μm)", "titleFontWeight": "normal", "labelFontSize": 14}},
         "fill": {"field": "trt", "type": "nominal", "scale": {"domain": ["Veh", "GYY"], "range": ["#000000", "#f6e51b"]}, "legend": null}}},
      {"mark": {"type": "rule", "strokeWidth": 2, "color": "black"},
       "encoding": {"x": {"field": "g", "type": "nominal"}, "y": {"field": "v", "type": "quantitative"}, "y2": {"field": "hi"}}},
      {"mark": {"type": "tick", "size": 13, "thickness": 2, "color": "black", "opacity": 1},
       "encoding": {"x": {"field": "g", "type": "nominal"}, "y": {"field": "hi", "type": "quantitative"}}}
    ]},
    {"data": {"name": "H_b"}, "layer": [
      {"mark": {"type": "rule", "strokeWidth": 2, "color": "black"},
       "encoding": {"x": {"field": "a", "type": "quantitative", "scale": {"domain": [-0.9, 4.9], "nice": false, "zero": false}, "axis": null}, "x2": {"field": "b"}, "y": {"field": "y", "type": "quantitative"}}},
      {"transform": [{"filter": "datum.t == 'ns'"}], "mark": {"type": "text", "fontSize": 14, "fontWeight": "bold", "baseline": "middle", "dy": -7},
       "encoding": {"x": {"field": "m", "type": "quantitative"}, "y": {"field": "y", "type": "quantitative"}, "text": {"field": "t"}}},
      {"transform": [{"filter": "datum.t != 'ns'"}], "mark": {"type": "text", "fontSize": 18, "baseline": "middle", "dy": -2},
       "encoding": {"x": {"field": "m", "type": "quantitative"}, "y": {"field": "y", "type": "quantitative"}, "text": {"field": "t"}}}
    ]}
  ]
},
{
  "width": 195, "height": 145,
  "title": {"text": "I", "dx": -26, "dy": 23},
  "resolve": {"scale": {"x": "independent"}},
  "layer": [
    {"data": {"name": "I"}, "layer": [
      {"mark": {"type": "bar", "width": {"band": 0.75}, "stroke": "black", "strokeWidth": 1.5},
       "encoding": {
         "x": {"field": "g", "type": "nominal", "scale": {"domain": ["Sham Veh", "Sham GYY", "", "OVX Veh", "OVX GYY"], "paddingInner": 0, "paddingOuter": 0.4}, "axis": {"title": null, "labelExpr": "split(datum.label, ' ')", "labelAngle": 0, "ticks": false, "labelPadding": 6, "labelFontSize": 13, "labelLineHeight": 14, "labelBaseline": "top", "labelOffset": {"condition": [{"test": "datum.value == 'Sham GYY'", "value": 7}, {"test": "datum.value == 'OVX Veh'", "value": -4}, {"test": "datum.value == 'OVX GYY'", "value": 1}], "value": -2}}},
         "y": {"field": "v", "type": "quantitative", "scale": {"domain": [0, 0.4, 0.4001, 0.8], "range": [145, 124, 113, 9], "nice": false, "zero": false}, "axis": {"values": [0, 0.4, 0.6, 0.8], "tickCount": 30, "labelOverlap": false, "format": ".1f", "title": "Femur-Ct.V (mm³)", "titleFontWeight": "normal", "labelFontSize": 14}},
         "fill": {"field": "trt", "type": "nominal", "scale": {"domain": ["Veh", "GYY"], "range": ["#000000", "#f6e51b"]}, "legend": null}}},
      {"mark": {"type": "rule", "strokeWidth": 2, "color": "black"},
       "encoding": {"x": {"field": "g", "type": "nominal"}, "y": {"field": "v", "type": "quantitative"}, "y2": {"field": "hi"}}},
      {"mark": {"type": "tick", "size": 13, "thickness": 2, "color": "black", "opacity": 1},
       "encoding": {"x": {"field": "g", "type": "nominal"}, "y": {"field": "hi", "type": "quantitative"}}}
    ]},
    {"layer": [
      {"data": {"name": "I_b"}, "mark": {"type": "rule", "strokeWidth": 2, "color": "black"},
       "encoding": {"x": {"field": "a", "type": "quantitative", "scale": {"domain": [-0.9, 4.9], "nice": false, "zero": false}, "axis": null}, "x2": {"field": "b"}, "y": {"field": "y", "type": "quantitative"}}},
      {"data": {"name": "I_b"}, "transform": [{"filter": "datum.t == 'ns'"}], "mark": {"type": "text", "fontSize": 14, "fontWeight": "bold", "baseline": "middle", "dy": -7},
       "encoding": {"x": {"field": "m", "type": "quantitative"}, "y": {"field": "y", "type": "quantitative"}, "text": {"field": "t"}}},
      {"data": {"name": "I_b"}, "transform": [{"filter": "datum.t != 'ns'"}], "mark": {"type": "text", "fontSize": 18, "baseline": "middle", "dy": -2},
       "encoding": {"x": {"field": "m", "type": "quantitative"}, "y": {"field": "y", "type": "quantitative"}, "text": {"field": "t"}}},
      {"data": {"name": "I_gap"}, "mark": {"type": "rect", "color": "white", "opacity": 1},
       "encoding": {"x": {"field": "a", "type": "quantitative"}, "x2": {"field": "b"}, "y": {"field": "y1", "type": "quantitative"}, "y2": {"field": "y2"}}}
    ]}
  ]
},
{
  "width": 195, "height": 141,
  "title": {"text": "J", "dx": -2, "dy": 9},
  "resolve": {"scale": {"x": "independent"}},
  "layer": [
    {"data": {"name": "J"}, "layer": [
      {"mark": {"type": "bar", "width": {"band": 0.75}, "stroke": "black", "strokeWidth": 1.5},
       "encoding": {
         "x": {"field": "g", "type": "nominal", "scale": {"domain": ["Sham Veh", "Sham GYY", "", "OVX Veh", "OVX GYY"], "paddingInner": 0, "paddingOuter": 0.4}, "axis": {"title": null, "labelExpr": "split(datum.label, ' ')", "labelAngle": 0, "ticks": false, "labelPadding": 6, "labelFontSize": 13, "labelLineHeight": 14, "labelBaseline": "top", "labelOffset": {"condition": [{"test": "datum.value == 'Sham GYY'", "value": 7}, {"test": "datum.value == 'OVX Veh'", "value": -4}, {"test": "datum.value == 'OVX GYY'", "value": 1}], "value": -2}}},
         "y": {"field": "v", "type": "quantitative", "scale": {"domain": [0, 100, 100.01, 220], "range": [141, 121, 115.7, 1.7], "nice": false, "zero": false}, "axis": {"values": [0, 100, 120, 170, 220], "format": "d", "tickCount": 30, "labelOverlap": false, "offset": -6, "title": "Femur-Ct.Th (μm)", "titleFontWeight": "normal", "labelFontSize": 14}},
         "fill": {"field": "trt", "type": "nominal", "scale": {"domain": ["Veh", "GYY"], "range": ["#000000", "#f6e51b"]}, "legend": null}}},
      {"mark": {"type": "rule", "strokeWidth": 2, "color": "black"},
       "encoding": {"x": {"field": "g", "type": "nominal"}, "y": {"field": "v", "type": "quantitative"}, "y2": {"field": "hi"}}},
      {"mark": {"type": "tick", "size": 13, "thickness": 2, "color": "black", "opacity": 1},
       "encoding": {"x": {"field": "g", "type": "nominal"}, "y": {"field": "hi", "type": "quantitative"}}}
    ]},
    {"layer": [
      {"data": {"name": "J_b"}, "mark": {"type": "rule", "strokeWidth": 2, "color": "black"},
       "encoding": {"x": {"field": "a", "type": "quantitative", "scale": {"domain": [-0.9, 4.9], "nice": false, "zero": false}, "axis": null}, "x2": {"field": "b"}, "y": {"field": "y", "type": "quantitative"}}},
      {"data": {"name": "J_b"}, "transform": [{"filter": "datum.t == 'ns'"}], "mark": {"type": "text", "fontSize": 14, "fontWeight": "bold", "baseline": "middle", "dy": -7},
       "encoding": {"x": {"field": "m", "type": "quantitative"}, "y": {"field": "y", "type": "quantitative"}, "text": {"field": "t"}}},
      {"data": {"name": "J_b"}, "transform": [{"filter": "datum.t != 'ns'"}], "mark": {"type": "text", "fontSize": 18, "baseline": "middle", "dy": -2},
       "encoding": {"x": {"field": "m", "type": "quantitative"}, "y": {"field": "y", "type": "quantitative"}, "text": {"field": "t"}}},
      {"data": {"name": "J_gap"}, "mark": {"type": "rect", "color": "white", "opacity": 1},
       "encoding": {"x": {"field": "a", "type": "quantitative"}, "x2": {"field": "b"}, "y": {"field": "y1", "type": "quantitative"}, "y2": {"field": "y2"}}}
    ]}
  ]
},
{
  "width": 195, "height": 141,
  "title": {"text": "K", "dx": -21, "dy": 23},
  "resolve": {"scale": {"x": "independent"}},
  "layer": [
    {"data": {"name": "K"}, "layer": [
      {"mark": {"type": "bar", "width": {"band": 0.75}, "stroke": "black", "strokeWidth": 1.5},
       "encoding": {
         "x": {"field": "g", "type": "nominal", "scale": {"domain": ["Sham Veh", "Sham GYY", "", "OVX Veh", "OVX GYY"], "paddingInner": 0, "paddingOuter": 0.4}, "axis": {"title": null, "labelExpr": "split(datum.label, ' ')", "labelAngle": 0, "ticks": false, "labelPadding": 6, "labelFontSize": 13, "labelLineHeight": 14, "labelBaseline": "top", "labelOffset": {"condition": [{"test": "datum.value == 'Sham GYY'", "value": 7}, {"test": "datum.value == 'OVX Veh'", "value": -4}, {"test": "datum.value == 'OVX GYY'", "value": 1}], "value": -2}}},
         "y": {"field": "v", "type": "quantitative", "scale": {"domain": [0, 100], "range": [141, 0], "nice": false, "zero": false}, "axis": {"values": [0, 20, 40, 60, 80, 100], "format": "d", "tickCount": 30, "labelOverlap": false, "title": "P1NP(ng/ml)", "labelFontSize": 14}},
         "fill": {"field": "trt", "type": "nominal", "scale": {"domain": ["Veh", "GYY"], "range": ["#000000", "#f6e51b"]}, "legend": null}}},
      {"mark": {"type": "rule", "strokeWidth": 2, "color": "black"},
       "encoding": {"x": {"field": "g", "type": "nominal"}, "y": {"field": "v", "type": "quantitative"}, "y2": {"field": "hi"}}},
      {"mark": {"type": "tick", "size": 13, "thickness": 2, "color": "black", "opacity": 1},
       "encoding": {"x": {"field": "g", "type": "nominal"}, "y": {"field": "hi", "type": "quantitative"}}}
    ]},
    {"data": {"name": "K_b"}, "layer": [
      {"mark": {"type": "rule", "strokeWidth": 2, "color": "black"},
       "encoding": {"x": {"field": "a", "type": "quantitative", "scale": {"domain": [-0.9, 4.9], "nice": false, "zero": false}, "axis": null}, "x2": {"field": "b"}, "y": {"field": "y", "type": "quantitative"}}},
      {"transform": [{"filter": "datum.t == 'ns'"}], "mark": {"type": "text", "fontSize": 14, "fontWeight": "bold", "baseline": "middle", "dy": -7},
       "encoding": {"x": {"field": "m", "type": "quantitative"}, "y": {"field": "y", "type": "quantitative"}, "text": {"field": "t"}}},
      {"transform": [{"filter": "datum.t != 'ns'"}], "mark": {"type": "text", "fontSize": 18, "baseline": "middle", "dy": -2},
       "encoding": {"x": {"field": "m", "type": "quantitative"}, "y": {"field": "y", "type": "quantitative"}, "text": {"field": "t"}}}
    ]}
  ]
},
{
  "width": 195, "height": 141,
  "title": {"text": "L", "dx": -28, "dy": 17},
  "resolve": {"scale": {"x": "independent"}},
  "layer": [
    {"data": {"name": "L"}, "layer": [
      {"mark": {"type": "bar", "width": {"band": 0.75}, "stroke": "black", "strokeWidth": 1.5},
       "encoding": {
         "x": {"field": "g", "type": "nominal", "scale": {"domain": ["Sham Veh", "Sham GYY", "", "OVX Veh", "OVX GYY"], "paddingInner": 0, "paddingOuter": 0.4}, "axis": {"title": null, "labelExpr": "split(datum.label, ' ')", "labelAngle": 0, "ticks": false, "labelPadding": 6, "labelFontSize": 13, "labelLineHeight": 14, "labelBaseline": "top", "labelOffset": {"condition": [{"test": "datum.value == 'Sham GYY'", "value": 7}, {"test": "datum.value == 'OVX Veh'", "value": -4}, {"test": "datum.value == 'OVX GYY'", "value": 1}], "value": -2}}},
         "y": {"field": "v", "type": "quantitative", "scale": {"domain": [0, 60], "range": [141, 6], "nice": false, "zero": false}, "axis": {"values": [0, 20, 40, 60], "format": "d", "tickCount": 30, "labelOverlap": false, "title": "CTX (ng/ml)", "labelFontSize": 14}},
         "fill": {"field": "trt", "type": "nominal", "scale": {"domain": ["Veh", "GYY"], "range": ["#000000", "#f6e51b"]}, "legend": null}}},
      {"mark": {"type": "rule", "strokeWidth": 2, "color": "black"},
       "encoding": {"x": {"field": "g", "type": "nominal"}, "y": {"field": "v", "type": "quantitative"}, "y2": {"field": "hi"}}},
      {"mark": {"type": "tick", "size": 13, "thickness": 2, "color": "black", "opacity": 1},
       "encoding": {"x": {"field": "g", "type": "nominal"}, "y": {"field": "hi", "type": "quantitative"}}}
    ]},
    {"data": {"name": "L_b"}, "layer": [
      {"mark": {"type": "rule", "strokeWidth": 2, "color": "black"},
       "encoding": {"x": {"field": "a", "type": "quantitative", "scale": {"domain": [-0.9, 4.9], "nice": false, "zero": false}, "axis": null}, "x2": {"field": "b"}, "y": {"field": "y", "type": "quantitative"}}},
      {"transform": [{"filter": "datum.t == 'ns'"}], "mark": {"type": "text", "fontSize": 14, "fontWeight": "bold", "baseline": "middle", "dy": -7},
       "encoding": {"x": {"field": "m", "type": "quantitative"}, "y": {"field": "y", "type": "quantitative"}, "text": {"field": "t"}}},
      {"transform": [{"filter": "datum.t != 'ns'"}], "mark": {"type": "text", "fontSize": 18, "baseline": "middle", "dy": -2},
       "encoding": {"x": {"field": "m", "type": "quantitative"}, "y": {"field": "y", "type": "quantitative"}, "text": {"field": "t"}}}
    ]}
  ]
}
]
}
